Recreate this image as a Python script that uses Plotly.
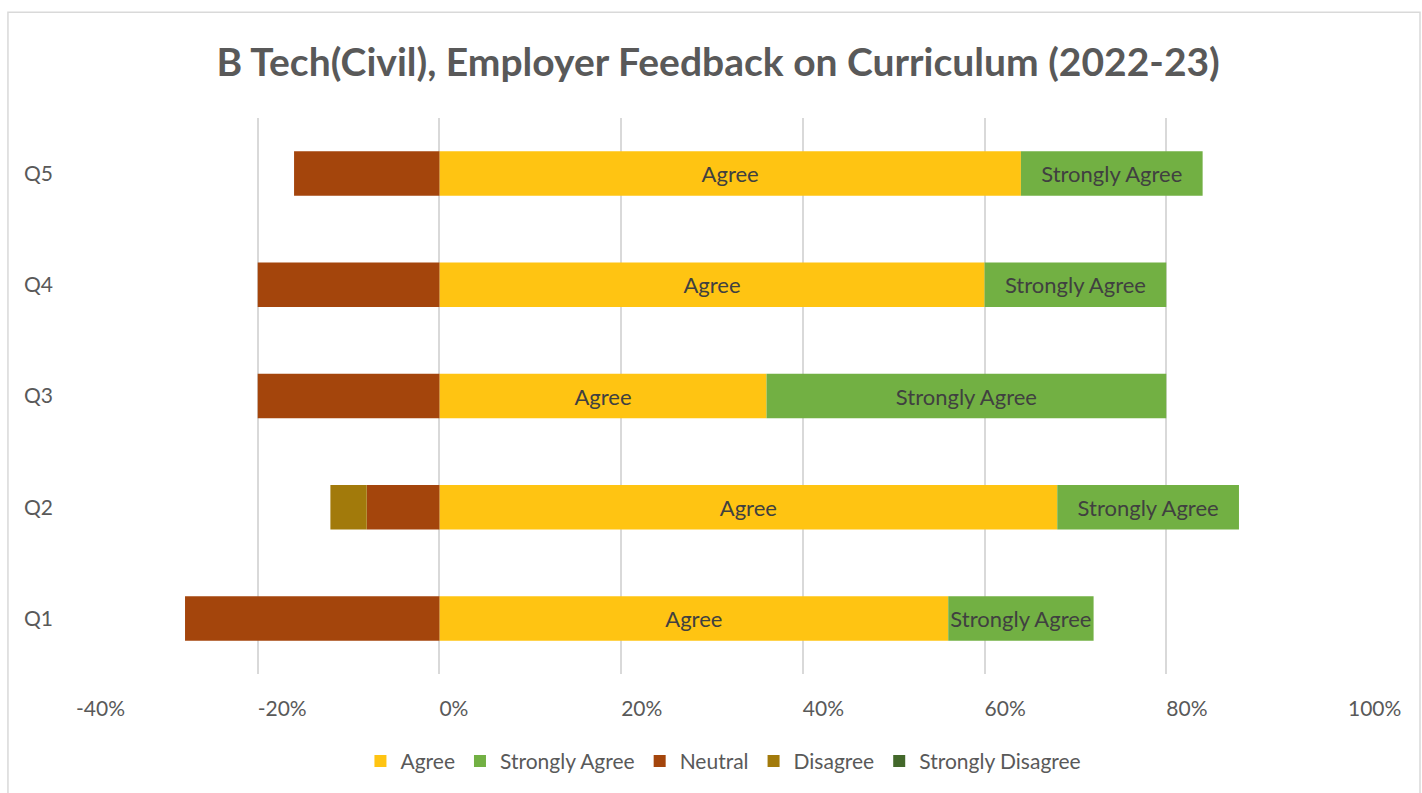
import plotly.graph_objects as go

questions = ["Q1", "Q2", "Q3", "Q4", "Q5"]
agree = [56, 68, 36, 60, 64]
strongly_agree = [16, 20, 44, 20, 20]
neutral = [28, 8, 20, 20, 16]
disagree = [0, 4, 0, 0, 0]
strongly_disagree = [0, 0, 0, 0, 0]

tick_vals = [-40, -20, 0, 20, 40, 60, 80, 100]
tick_text = ["-40%", "-20%", "0%", "20%", "40%", "60%", "80%", "100%"]

FONT = "Lato, 'Open Sans', sans-serif"
label_font = dict(family=FONT, size=22, color="#404040")

fig = go.Figure()

fig.add_trace(go.Bar(
    y=questions, x=agree, name="Agree", orientation="h",
    marker=dict(color="#FFC412", line=dict(width=0)),
    text=["Agree"] * len(questions), textposition="inside",
    insidetextanchor="middle", textfont=label_font, constraintext="none",
))
fig.add_trace(go.Bar(
    y=questions, x=strongly_agree, name="Strongly Agree", orientation="h",
    marker=dict(color="#72B043", line=dict(width=0)),
    text=["Strongly Agree"] * len(questions), textposition="inside",
    insidetextanchor="middle", textfont=label_font, constraintext="none",
))
fig.add_trace(go.Bar(
    y=questions, x=[-v for v in neutral], name="Neutral", orientation="h",
    marker=dict(color="#A4450C", line=dict(width=0)),
))
fig.add_trace(go.Bar(
    y=questions, x=[-v for v in disagree], name="Disagree", orientation="h",
    marker=dict(color="#A27A0B", line=dict(width=0)),
))
fig.add_trace(go.Bar(
    y=questions, x=[-v for v in strongly_disagree], name="Strongly Disagree", orientation="h",
    marker=dict(color="#43682B", line=dict(width=0)),
))

fig.update_layout(
    width=1422, height=793,
    barmode="relative",
    bargap=0.6,
    paper_bgcolor="white",
    plot_bgcolor="white",
    margin=dict(l=76, r=74, t=118, b=118),
    title=dict(
        text="<b>B Tech(Civil), Employer Feedback on Curriculum (2022-23)</b>",
        x=0.505, xanchor="center", y=0.922, yanchor="middle",
        font=dict(family=FONT, size=39, color="#595959"),
    ),
    font=dict(family=FONT, size=21, color="#595959"),
    showlegend=True,
    legend=dict(
        orientation="h", x=0.509, xanchor="center", y=-0.155, yanchor="middle",
        font=dict(family=FONT, size=21, color="#595959"),
        itemwidth=30, traceorder="normal",
    ),
    xaxis=dict(
        range=[-40, 100], tickvals=tick_vals, ticktext=tick_text,
        showgrid=True, gridcolor="#D9D9D9", gridwidth=1.5,
        zeroline=True, zerolinecolor="#D9D9D9", zerolinewidth=2,
        showline=False, ticks="", ticklabelposition="outside right",
        tickfont=dict(family=FONT, size=21, color="#595959"),
        ticklabelstandoff=20, fixedrange=True,
    ),
    yaxis=dict(
        categoryorder="array", categoryarray=questions,
        showgrid=False, zeroline=False, showline=False, ticks="",
        tickfont=dict(family=FONT, size=21, color="#595959"),
        ticklabelstandoff=22, fixedrange=True,
    ),
    shapes=[dict(
        type="rect", xref="paper", yref="paper",
        x0=-0.0535, x1=1.0566, y0=-0.25, y1=1.19,
        line=dict(color="#D9D9D9", width=1.5), fillcolor="rgba(0,0,0,0)",
        layer="below",
    )],
)

fig.write_html(
    "out.html",
    config={"displayModeBar": False},
    post_script="document.body.style.margin='0px';",
)
